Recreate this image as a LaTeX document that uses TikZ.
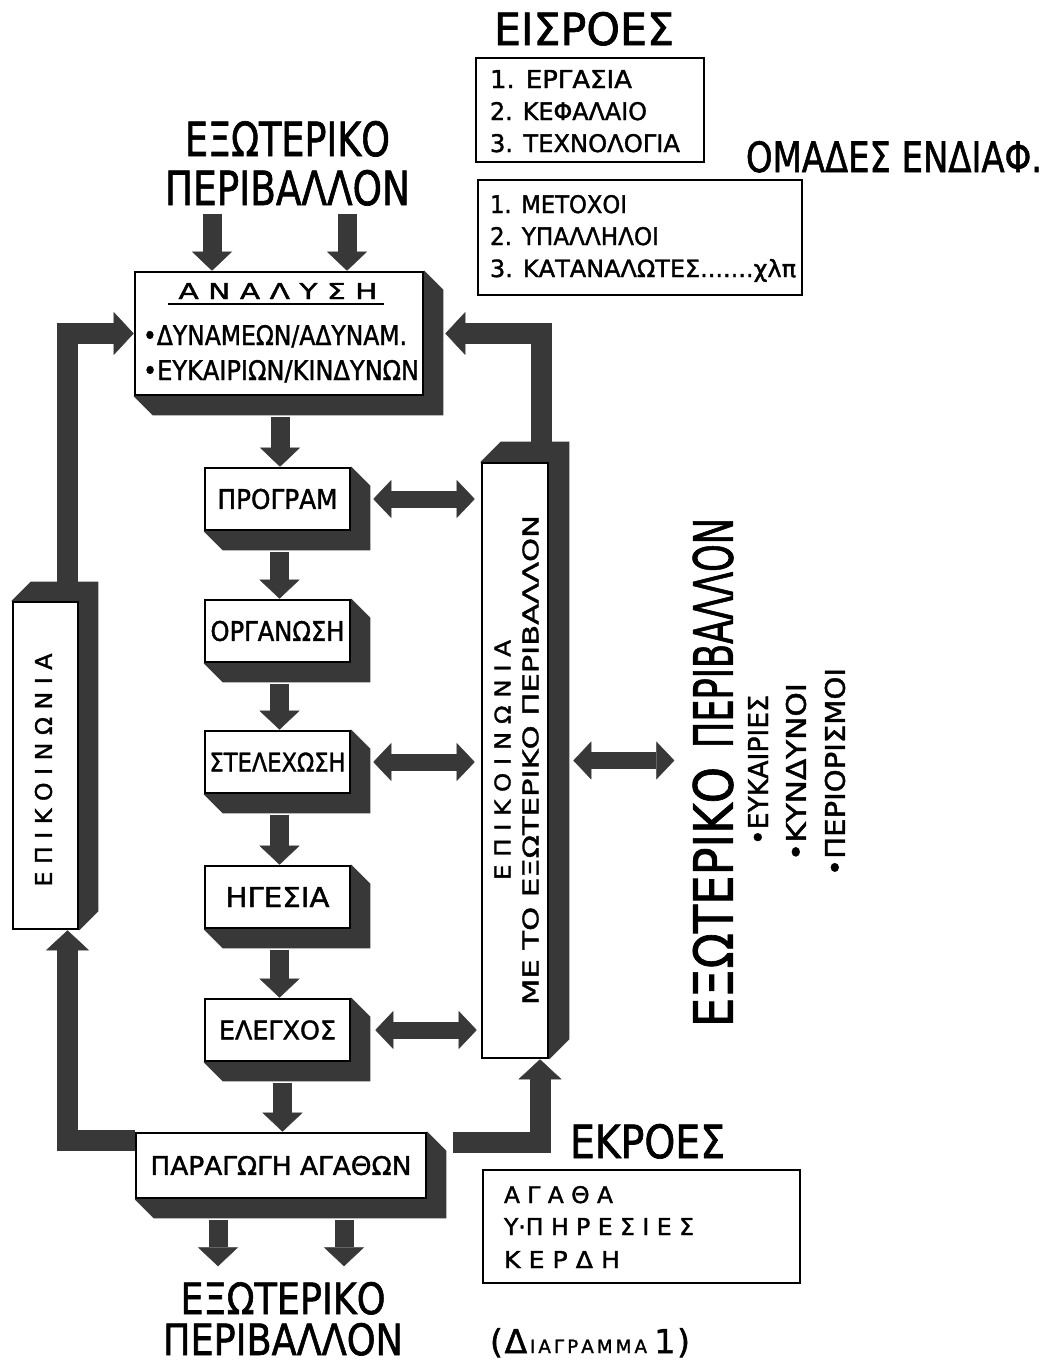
\documentclass[tikz,border=0pt]{standalone}
\usepackage{fontspec}
\setmainfont{DejaVu Sans}[FakeBold=1.5]
\usepackage{graphicx}
\usetikzlibrary{arrows.meta,calc,backgrounds}
\definecolor{shd}{gray}{0.22}
\newcommand\fit[3]{\resizebox{#1pt}{#2pt}{#3}}
\newcommand\shDR[2][19]{\begin{pgfonlayer}{background}\fill[shd] (#2.north east) -- ++(#1,#1) -- ($(#2.south east)+(#1,#1)$) -- ($(#2.south west)+(#1,#1)$) -- (#2.south west) -- cycle;\end{pgfonlayer}}
\newcommand\shUR[2][19]{\begin{pgfonlayer}{background}\fill[shd] (#2.north west) -- ++(#1,-#1) -- ($(#2.north east)+(#1,-#1)$) -- ($(#2.south east)+(#1,-#1)$) -- (#2.south east) -- cycle;\end{pgfonlayer}}
\tikzset{
 txt/.style={inner sep=0pt, outer sep=0pt},
 box/.style={draw, line width=2.6pt, fill=white, inner sep=0pt},
 mb/.style={box, minimum width=145pt, minimum height=62pt},
 fat/.style={draw=shd, line width=21pt, line join=miter},
 mid/.style={draw=shd, line width=19pt},
 dbl/.style={draw=shd, line width=17pt},
 FatH/.tip={Triangle[length=20pt,width=43pt,line width=0.5pt]},
 MidH/.tip={Triangle[length=19pt,width=40pt,line width=0.5pt]},
 DblH/.tip={Triangle[length=18pt,width=38pt,line width=0.5pt]},
}
\begin{document}
\begin{tikzpicture}[x=1pt,y=-1pt]
\useasboundingbox (0,0) rectangle (1050,1368);
\begin{pgfonlayer}{background}
\fill[white] (0,0) rectangle (1050,1368);
\end{pgfonlayer}

% ---- inputs / interest groups
\node[txt, anchor=base] (eisroes) at (584,45) {\fit{180}{33}{ΕΙΣΡΟΕΣ}};
\node[box, minimum width=228pt, minimum height=104pt] (inp) at (590,110) {};
\node[txt, anchor=base west] (in1) at (490,88) {\fit{142}{18}{1. ΕΡΓΑΣΙΑ}};
\node[txt, anchor=base west] (in2) at (490,120) {\fit{157}{18}{2. ΚΕΦΑΛΑΙΟ}};
\node[txt, anchor=base west] (in3) at (490,152) {\fit{190}{18}{3. ΤΕΧΝΟΛΟΓΙΑ}};
\node[txt, anchor=base west] (omades) at (746,172) {\fit{296}{31}{ΟΜΑΔΕΣ ΕΝΔΙΑΦ.}};
\node[box, minimum width=324pt, minimum height=115pt] (grp) at (640,237.5) {};
\node[txt, anchor=base west] (g1) at (490,213) {\fit{137}{18}{1. ΜΕΤΟΧΟΙ}};
\node[txt, anchor=base west] (g2) at (490,245) {\fit{169}{18}{2. ΥΠΑΛΛΗΛΟΙ}};
\node[txt, anchor=base west] (g3) at (490,277) {\fit{306}{18}{3. ΚΑΤΑΝΑΛΩΤΕΣ.......χλπ}};

% ---- external environment (top)
\node[txt, anchor=base] (ext1) at (287.5,156) {\fit{205}{35}{ΕΞΩΤΕΡΙΚΟ}};
\node[txt, anchor=base] (per1) at (287.5,205) {\fit{245}{35}{ΠΕΡΙΒΑΛΛΟΝ}};

% ---- analysis
\node[box, minimum width=288pt, minimum height=123pt] (ana) at (279,333.5) {};
\shDR{ana}
\node[txt, anchor=base] (anat) at (278,299) {\fit{199}{16}{Α Ν Α Λ Υ Σ Η}};
\draw[line width=1.6pt] (168,304) -- (384,304);
\node[txt, anchor=base west] (an1) at (143,345) {\fit{264}{20}{•ΔΥΝΑΜΕΩΝ/ΑΔΥΝΑΜ.}};
\node[txt, anchor=base west] (an2) at (143,380) {\fit{276}{20}{•ΕΥΚΑΙΡΙΩΝ/ΚΙΝΔΥΝΩΝ}};

% ---- management functions
\node[mb] (prog) at (277.5,499) {\fit{120}{20}{ΠΡΟΓΡΑΜ}};
\node[mb] (org) at (277.5,631) {\fit{134}{20}{ΟΡΓΑΝΩΣΗ}};
\node[mb] (stel) at (277.5,762) {\fit{136}{19}{ΣΤΕΛΕΧΩΣΗ}};
\node[mb] (hg) at (277.5,897) {\fit{104}{20}{ΗΓΕΣΙΑ}};
\node[mb] (el) at (277.5,1030) {\fit{117}{19}{ΕΛΕΓΧΟΣ}};
\shDR{prog}\shDR{org}\shDR{stel}\shDR{hg}\shDR{el}

% ---- production
\node[box, minimum width=290pt, minimum height=65pt] (prod) at (281,1165.5) {\fit{261}{19}{ΠΑΡΑΓΩΓΗ ΑΓΑΘΩΝ}};
\shDR{prod}

% ---- left communication box
\node[box, minimum width=65pt, minimum height=327pt] (lcom) at (45.5,765.5) {};
\shUR{lcom}
\node[txt, rotate=90] (lcomt) at (43.5,770) {\fit{233}{17}{Ε Π Ι Κ Ο Ι Ν Ω Ν Ι Α}};

% ---- right communication box
\node[box, minimum width=66pt, minimum height=595pt] (rcom) at (515,760.5) {};
\shUR[20]{rcom}
\node[txt, rotate=90] (rc1) at (502.5,760) {\fit{240}{16}{Ε Π Ι Κ Ο Ι Ν Ω Ν Ι Α}};
\node[txt, rotate=90] (rc2) at (530.5,760) {\fit{490}{16}{ΜΕ ΤΟ ΕΞΩΤΕΡΙΚΟ ΠΕΡΙΒΑΛΛΟΝ}};

% ---- external environment (right)
\node[txt, rotate=90] (perR) at (713,633) {\fit{230}{40}{ΠΕΡΙΒΑΛΛΟΝ}};
\node[txt, rotate=90] (extR) at (713,897) {\fit{260}{40}{ΕΞΩΤΕΡΙΚΟ}};
\node[txt, rotate=90] (b1) at (758,770) {\fit{150}{20}{•ΕΥΚΑΙΡΙΕΣ}};
\node[txt, rotate=90] (b2) at (796,772) {\fit{178}{20}{•ΚΥΝΔΥΝΟΙ}};
\node[txt, rotate=90] (b3) at (835,772) {\fit{208}{20}{•ΠΕΡΙΟΡΙΣΜΟΙ}};

% ---- outputs
\node[txt, anchor=base west] (ekroes) at (570,1158) {\fit{155}{34}{ΕΚΡΟΕΣ}};
\node[box, minimum width=317pt, minimum height=113pt] (outp) at (641.5,1226.5) {};
\node[txt, anchor=base west] (o1) at (504,1203) {\fit{109}{17}{Α Γ Α Θ Α}};
\node[txt, anchor=base west] (o2) at (504,1235) {\fit{190}{17}{Υ·Π Η Ρ Ε Σ Ι Ε Σ}};
\node[txt, anchor=base west] (o3) at (504,1268) {\fit{116}{17}{Κ Ε Ρ Δ Η}};

% ---- external environment (bottom)
\node[txt, anchor=base] (ext2) at (283,1314) {\fit{205}{32}{ΕΞΩΤΕΡΙΚΟ}};
\node[txt, anchor=base] (per2) at (283,1355) {\fit{240}{32}{ΠΕΡΙΒΑΛΛΟΝ}};
\node[txt, anchor=base west] (cap) at (490,1353) {\resizebox{200pt}{!}{\fontsize{36}{36}\selectfont(\kern2pt Δ\kern3pt{\fontsize{20}{20}\selectfont Ι\,Α\,Γ\,Ρ\,Α\,Μ\,Μ\,Α}\kern8pt 1\kern2pt)}};

% ---- connectors
\coordinate (t1) at (212,214);
\coordinate (t2) at (347,214);
\draw[mid,-MidH] (t1) -- (t1 |- ana.north);
\draw[mid,-MidH] (t2) -- (t2 |- ana.north);

\coordinate (a1) at ($(ana.south)+(1,21)$);
\draw[mid,-MidH] (a1) -- (a1 |- prog.north);
\coordinate (a2) at ($(prog.south)+(2,21)$);
\draw[mid,-MidH] (a2) -- (a2 |- org.north);
\coordinate (a3) at ($(org.south)+(2,21)$);
\draw[mid,-MidH] (a3) -- (a3 |- stel.north);
\coordinate (a4) at ($(stel.south)+(2,21)$);
\draw[mid,-MidH] (a4) -- (a4 |- hg.north);
\coordinate (a5) at ($(hg.south)+(2,21)$);
\draw[mid,-MidH] (a5) -- (a5 |- el.north);
\coordinate (a6) at ($(el.south)+(5,21)$);
\draw[mid,-MidH] (a6) -- (a6 |- prod.north);

\coordinate (p1) at ($(prod.south)+(-63,21)$);
\coordinate (p1e) at ($(p1)+(0,46)$);
\draw[mid,-MidH] (p1) -- (p1e);
\coordinate (p2) at ($(prod.south)+(63,21)$);
\coordinate (p2e) at ($(p2)+(0,46)$);
\draw[mid,-MidH] (p2) -- (p2e);

% left loop
\coordinate (ls) at ($(lcom.north)+(22,-19)$);
\draw[fat,-FatH] (ls) |- (ana.west);
\coordinate (lb) at ($(prod.north west)+(0,9)$);
\coordinate (lbe) at ($(lcom.south)+(22,0)$);
\draw[fat,-FatH] (lb) -| (lbe);
% right loop
\coordinate (rs) at ($(rcom.north)+(26,-19)$);
\coordinate (anaS) at ($(ana.east)+(21,0)$);
\draw[fat,-FatH] (rs) |- (anaS);
\coordinate (rb) at (453,1142);
\coordinate (rbe) at ($(rcom.south)+(25,0)$);
\draw[fat,-FatH] (rb) -| (rbe);

% double arrows
\coordinate (d1) at ($(prog.east)+(22,0)$);
\coordinate (d1e) at (d1 -| rcom.west);
\draw[dbl,DblH-DblH] (d1) -- ($(d1e)+(-6,0)$);
\coordinate (d2) at ($(stel.east)+(22,0)$);
\coordinate (d2e) at (d2 -| rcom.west);
\draw[dbl,DblH-DblH] (d2) -- ($(d2e)+(-6,0)$);
\coordinate (d3) at ($(el.east)+(24,0)$);
\coordinate (d3e) at (d3 -| rcom.west);
\draw[dbl,DblH-DblH] (d3) -- ($(d3e)+(-4,0)$);
\coordinate (d4) at ($(rcom.east)+(24,0)$);
\coordinate (d4e) at ($(d4)+(101,0)$);
\draw[dbl,DblH-DblH] (d4) -- (d4e);
\end{tikzpicture}
\end{document}
